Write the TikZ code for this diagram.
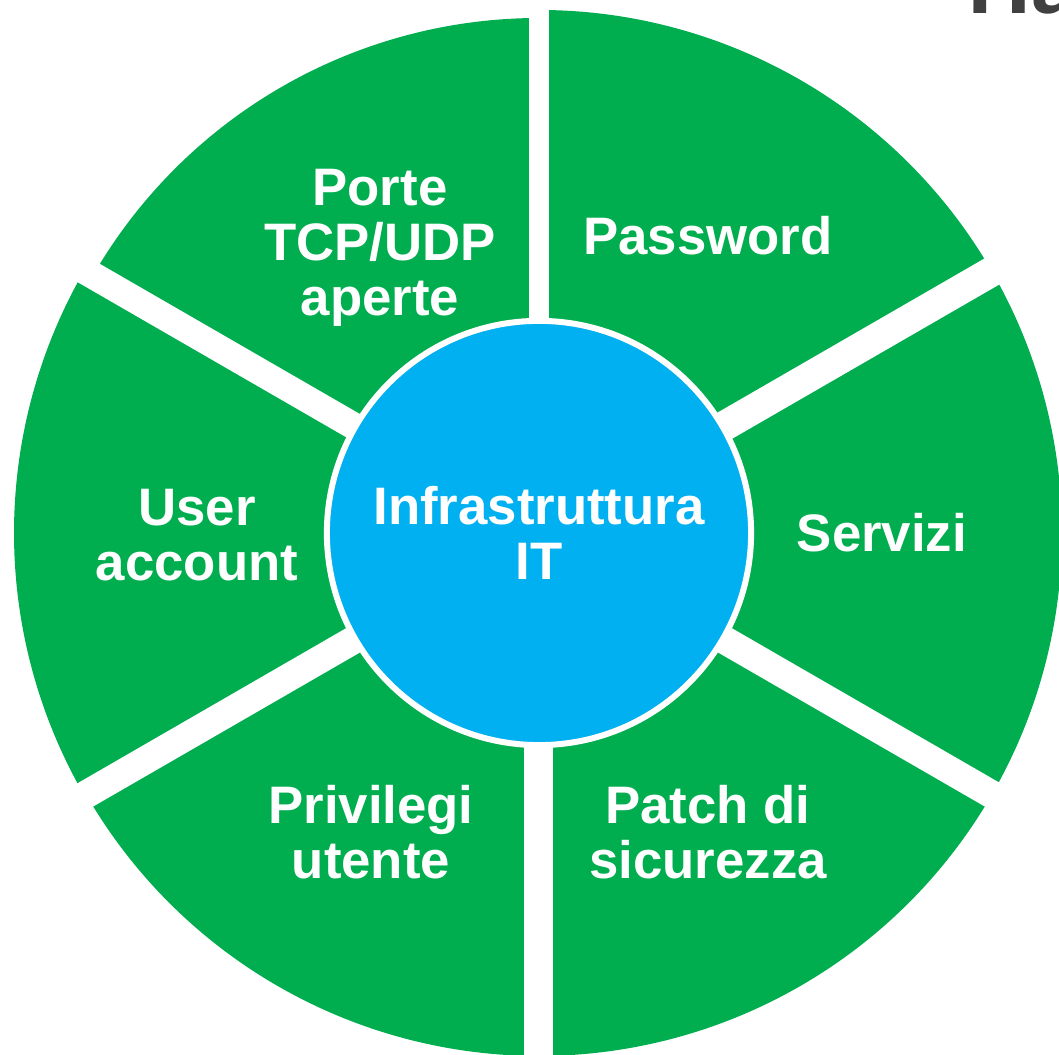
\documentclass[tikz,border=0pt]{standalone}
\usepackage{fontspec}
\setmainfont{Liberation Sans}
\newfontfamily\titlefont{Carlito}
\definecolor{sectgreen}{HTML}{00AD4F}
\definecolor{hubblue}{HTML}{00B0F0}
\definecolor{titlegray}{HTML}{404040}

\begin{document}
\begin{tikzpicture}[x=0.01cm,y=0.01cm,
  sectlabel/.style={text=white,font=\bfseries\fontsize{15}{15.6}\selectfont,align=center,inner sep=0pt},
  gapline/.style={draw=white,line width=#1*0.01cm}]
\useasboundingbox (0,0) rectangle (1059,1055);
\clip (0,0) rectangle (1059,1055);
\coordinate (c) at (539,522);

% Sectors (green slices)
\foreach \a/\r in {30/523,90/515,150/525,210/523,270/523,330/523}
  \fill[sectgreen] (c) -- ++(\a:\r) arc[start angle=\a,end angle=\a+60,radius=\r] -- cycle;

% Gaps between slices
\foreach \a/\w in {90/20,30/30,330/28,270/29,210/28,150/27}
  \draw[gapline=\w] (c) -- ++(\a:600);

% Hub
\node[circle,fill=hubblue,draw=white,line width=0.06cm,minimum size=4.24cm,inner sep=0pt,
  text=white,font=\bfseries\fontsize{15}{15.6}\selectfont,align=center] (infra) at (c) {Infrastruttura\\IT};

% Labels (slices)
\node[sectlabel] (porte) at (380,807) {Porte\\TCP/UDP\\aperte};
\node[sectlabel] (password) at (708,819) {Password};
\node[sectlabel] (servizi) at (882,522) {Servizi};
\node[sectlabel] (patch) at (708,223) {Patch di\\sicurezza};
\node[sectlabel] (privilegi) at (371,223) {Privilegi\\utente};
\node[sectlabel] (account) at (197,520) {User\\account};

% Title (cut off by the edge)
\node[anchor=base west,inner sep=0pt,text=titlegray,font=\titlefont\bfseries\fontsize{28}{30}\selectfont] (title) at (968,1041) {Ha};
\end{tikzpicture}
\end{document}
